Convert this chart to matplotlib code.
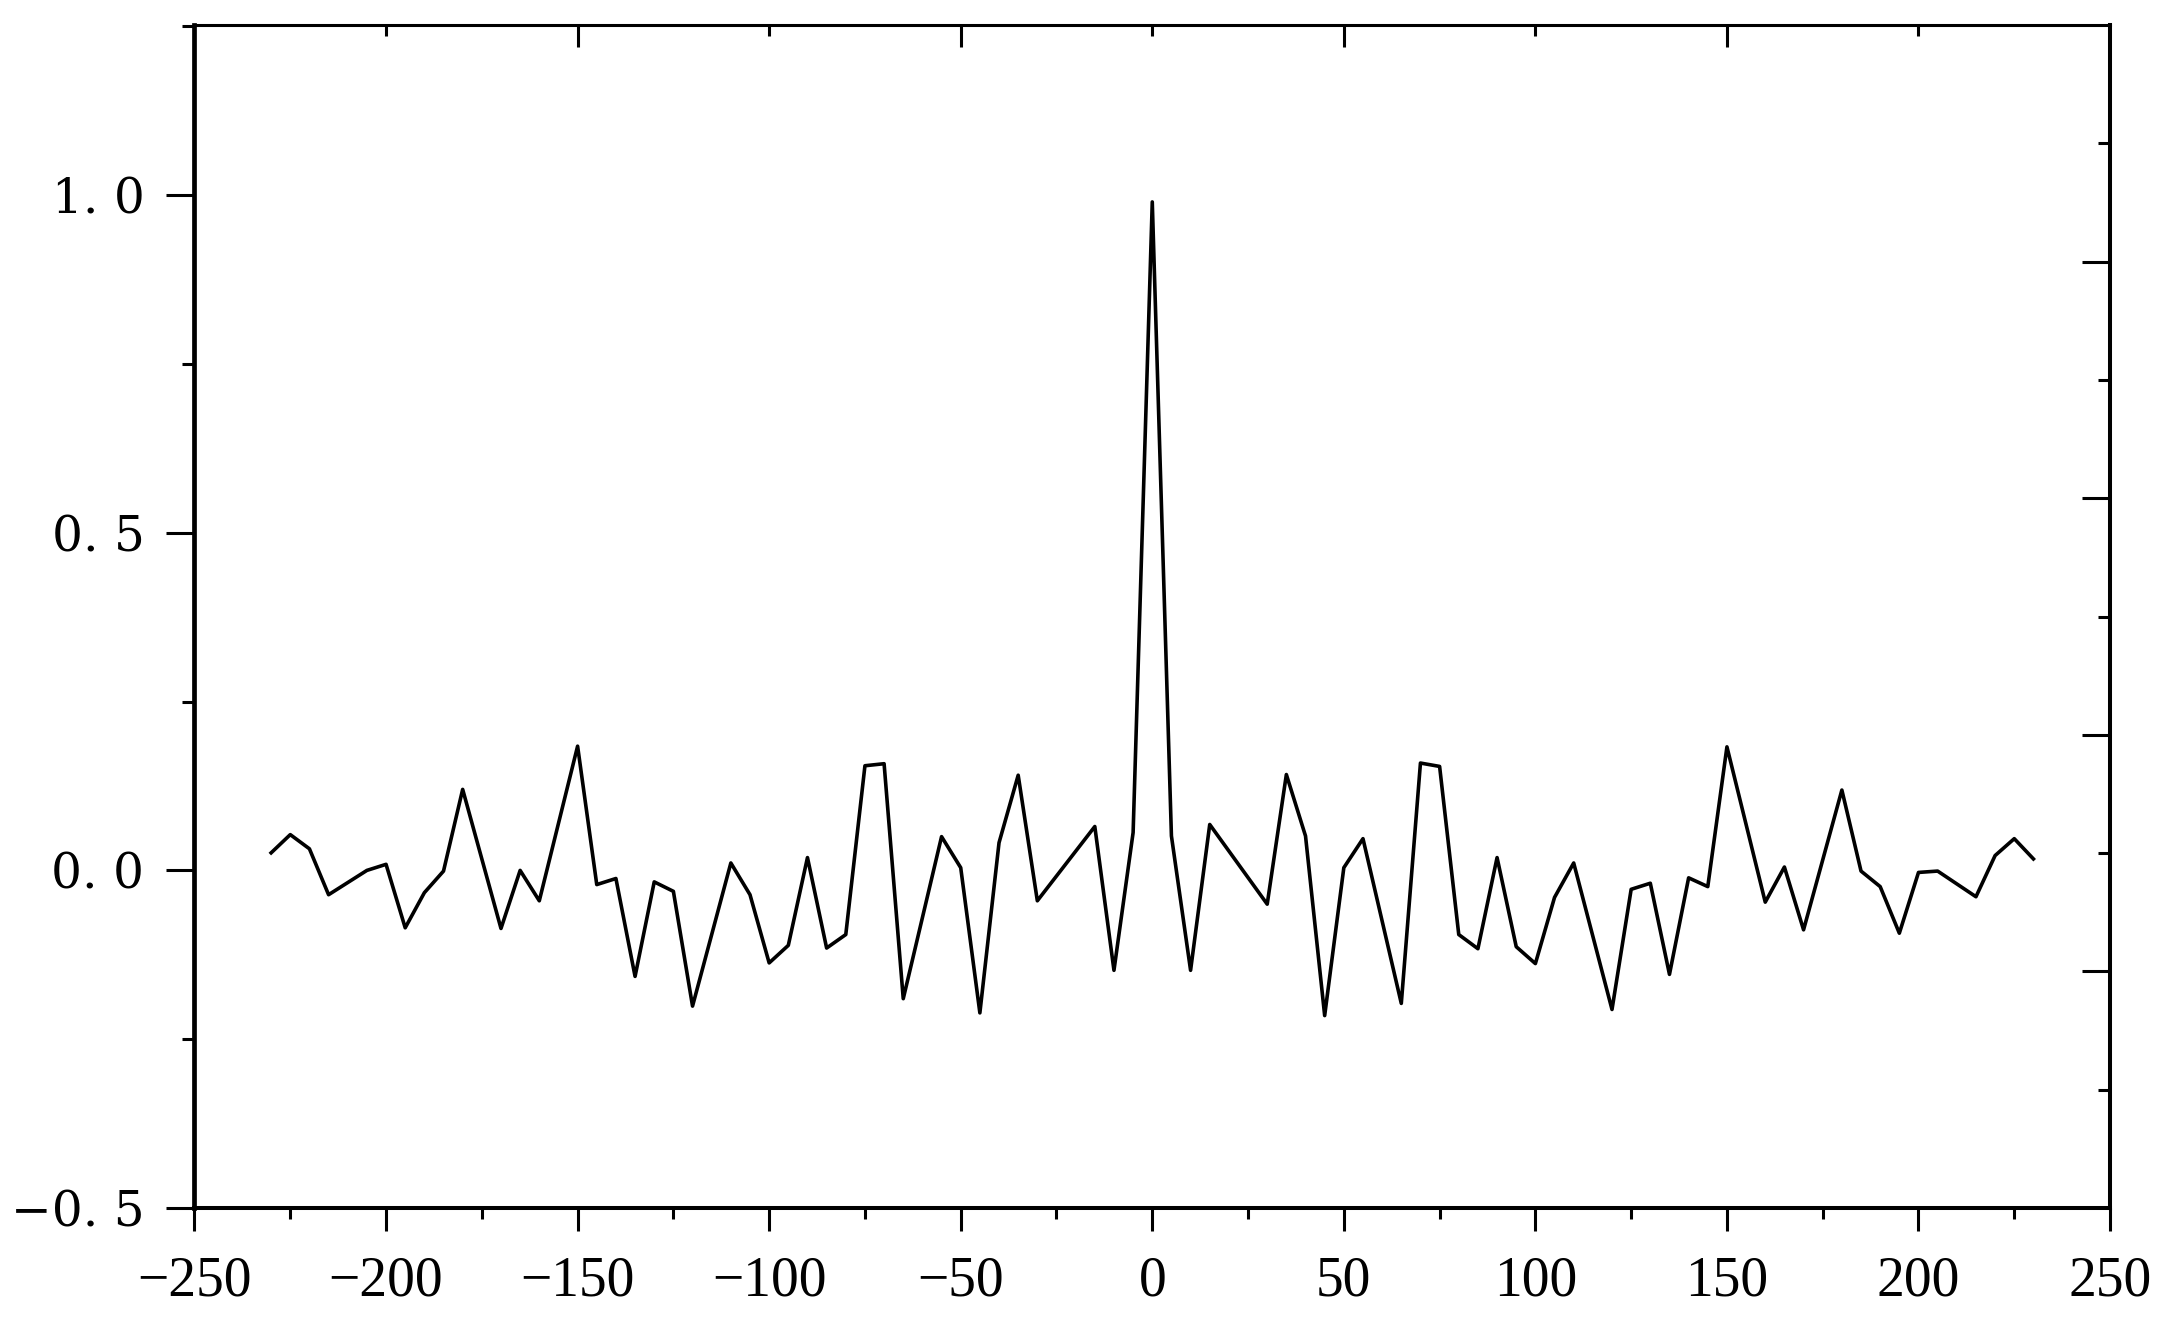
import numpy as np
import matplotlib.pyplot as plt
from matplotlib.ticker import FixedLocator, MultipleLocator, NullFormatter

# lag values and correlation
lag = [-230, -225, -220, -215, -205, -200, -195, -190, -185, -180,
       -170, -165, -160, -150, -145, -140, -135, -130, -125, -120,
       -110, -105, -100, -95, -90, -85, -80, -75, -70, -65,
       -55, -50, -45, -40, -35, -30, -15, -10, -5, 0,
       5, 10, 15, 30, 35, 40, 45, 50, 55, 65,
       70, 75, 80, 85, 90, 95, 100, 105, 110, 120,
       125, 130, 135, 140, 145, 150, 160, 165, 170, 180,
       185, 190, 195, 200, 205, 215, 220, 225, 230]
corr = [0.026, 0.053, 0.032, -0.036, 0.000, 0.009, -0.085, -0.033, -0.001, 0.120,
        -0.086, 0.000, -0.045, 0.184, -0.021, -0.012, -0.157, -0.017, -0.031, -0.201,
        0.011, -0.036, -0.137, -0.111, 0.019, -0.115, -0.095, 0.155, 0.158, -0.190,
        0.050, 0.004, -0.211, 0.041, 0.141, -0.045, 0.065, -0.148, 0.056, 0.990,
        0.051, -0.148, 0.068, -0.050, 0.142, 0.051, -0.215, 0.004, 0.047, -0.197,
        0.159, 0.154, -0.095, -0.116, 0.019, -0.113, -0.138, -0.040, 0.011, -0.206,
        -0.028, -0.019, -0.154, -0.011, -0.024, 0.183, -0.047, 0.005, -0.088, 0.119,
        -0.001, -0.024, -0.093, -0.003, -0.001, -0.039, 0.022, 0.047, 0.017]

x_ticks = [-250, -200, -150, -100, -50, 0, 50, 100, 150, 200, 250]
x_labels = ['\u2212250', '\u2212200', '\u2212150', '\u2212100', '\u221250',
            '0', '50', '100', '150', '200', '250']
y_ticks = [-0.5, 0.0, 0.5, 1.0]
y_labels = ['\u22120. 5', '0. 0', '0. 5', '1. 0']

fig = plt.figure(figsize=(21.78, 13.31), dpi=100)
ax = fig.add_axes([0.0893, 0.0924, 0.8795, 0.8888])

ax.plot(lag, corr, color='black', linewidth=2.6, solid_joinstyle='round')

ax.set_xlim(-250, 250)
ax.set_ylim(-0.5, 1.252)

ax.xaxis.set_major_locator(FixedLocator(x_ticks))
ax.xaxis.set_minor_locator(MultipleLocator(25))
ax.set_xticklabels(x_labels, fontfamily='Liberation Serif', fontsize=40)
ax.yaxis.set_major_locator(FixedLocator(y_ticks))
ax.yaxis.set_minor_locator(MultipleLocator(0.25))
ax.set_yticklabels(y_labels, fontfamily='DejaVu Serif', fontsize=35)

ax.tick_params(axis='x', which='major', direction='out', length=16.5, width=2.2, pad=18)
ax.tick_params(axis='x', which='minor', direction='out', length=8, width=2.2)
ax.tick_params(axis='y', which='major', direction='out', length=20, width=2.2, pad=16)
ax.tick_params(axis='y', which='minor', direction='out', length=8.6, width=2.2)
ax.tick_params(top=False, right=False, which='both')

ax.spines['left'].set_linewidth(3.4)
ax.spines['bottom'].set_linewidth(2.9)
ax.spines['top'].set_linewidth(2.2)
ax.spines['right'].set_linewidth(2.9)

# right side: unlabeled inward ticks on their own scale
axr = ax.twinx()
axr.set_ylim(0, 5)
axr.yaxis.set_major_locator(FixedLocator([1, 2, 3, 4]))
axr.yaxis.set_minor_locator(FixedLocator([0.5, 1.5, 2.5, 3.5, 4.5]))
axr.yaxis.set_major_formatter(NullFormatter())
axr.tick_params(axis='y', which='major', direction='in', length=20, width=2.2)
axr.tick_params(axis='y', which='minor', direction='in', length=8.6, width=2.2)
for s in axr.spines.values():
    s.set_visible(False)

# top side: unlabeled inward ticks
axt = ax.twiny()
axt.set_xlim(0, 5)
axt.xaxis.set_major_locator(FixedLocator([1, 2, 3, 4]))
axt.xaxis.set_minor_locator(FixedLocator([0.5, 1.5, 2.5, 3.5, 4.5]))
axt.xaxis.set_major_formatter(NullFormatter())
axt.tick_params(axis='x', which='major', direction='in', length=16, width=2.2)
axt.tick_params(axis='x', which='minor', direction='in', length=8, width=2.2)
for s in axt.spines.values():
    s.set_visible(False)

fig.savefig('out.png', dpi=100, facecolor='white')
